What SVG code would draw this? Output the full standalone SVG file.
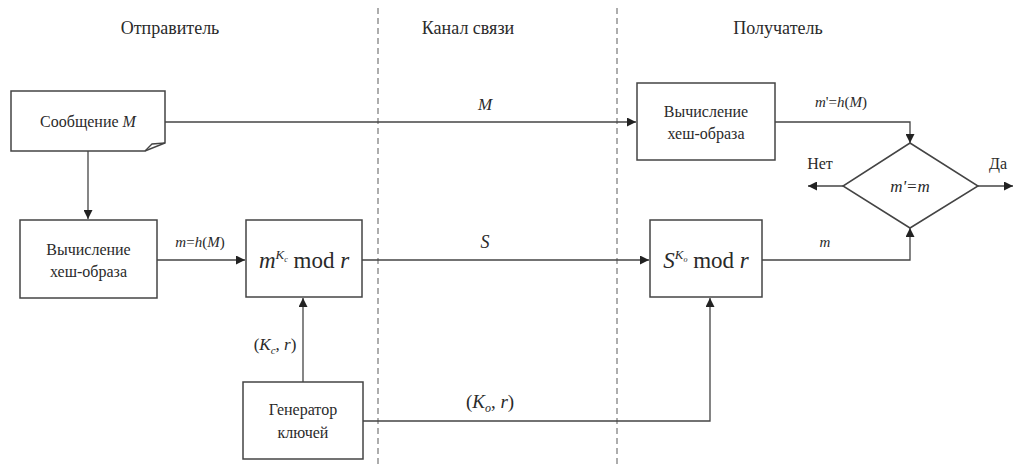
<svg xmlns="http://www.w3.org/2000/svg" width="1013" height="468" viewBox="0 0 1013 468">
<defs>
<marker id="ah" viewBox="0 0 10 10" refX="10" refY="5" markerWidth="9" markerHeight="9" markerUnits="userSpaceOnUse" orient="auto">
<path d="M0,0 L10,5 L0,10 Z" fill="#222"/>
</marker>
</defs>
<rect width="1013" height="468" fill="#fff"/>
<g id="headers">
<text font-family="Liberation Serif" font-size="18" fill="#2a2a2a" x="170" y="34" text-anchor="middle">Отправитель</text>
<text font-family="Liberation Serif" font-size="18" fill="#2a2a2a" x="468" y="34" text-anchor="middle">Канал связи</text>
<text font-family="Liberation Serif" font-size="18" fill="#2a2a2a" x="778" y="34" text-anchor="middle">Получатель</text>
<line fill="none" stroke="#777" stroke-width="1.2" stroke-dasharray="6,4" x1="378" y1="8" x2="378" y2="468"/>
<line fill="none" stroke="#777" stroke-width="1.2" stroke-dasharray="6,4" x1="617" y1="8" x2="617" y2="468"/>
</g>
<g id="connectors" fill="none" stroke="#444" stroke-width="1.3">
<path d="M165,122 H636" marker-end="url(#ah)"/>
<path d="M88,151 V219" marker-end="url(#ah)"/>
<path d="M157,260 H245" marker-end="url(#ah)"/>
<path d="M362,260 H649" marker-end="url(#ah)"/>
<path d="M303,382 V298" marker-end="url(#ah)"/>
<path d="M363,421 H710 V298" marker-end="url(#ah)"/>
<path d="M775,122 H910 V143" marker-end="url(#ah)"/>
<path d="M762,260 H910 V228" marker-end="url(#ah)"/>
<path d="M843,186 H808" marker-end="url(#ah)"/>
<path d="M978,186 H1013" marker-end="url(#ah)"/>
</g>
<g id="labels">
<text font-family="Liberation Serif" fill="#2a2a2a" font-style="italic" x="485" y="110" text-anchor="middle" font-size="17">M</text>
<text font-family="Liberation Serif" fill="#2a2a2a" x="200" y="247" text-anchor="middle" font-size="15"><tspan font-style="italic">m</tspan>=<tspan font-style="italic">h</tspan>(<tspan font-style="italic">M</tspan>)</text>
<text font-family="Liberation Serif" fill="#2a2a2a" font-style="italic" x="485" y="248" text-anchor="middle" font-size="18">S</text>
<text font-family="Liberation Serif" fill="#2a2a2a" x="275" y="350" text-anchor="middle" font-size="17">(<tspan font-style="italic">K</tspan><tspan font-style="italic" dy="4" font-size="11">c</tspan><tspan dy="-4">, </tspan><tspan font-style="italic">r</tspan>)</text>
<text font-family="Liberation Serif" fill="#2a2a2a" x="490" y="408" text-anchor="middle" font-size="19">(<tspan font-style="italic">K</tspan><tspan font-style="italic" dy="4" font-size="12">o</tspan><tspan dy="-4">, </tspan><tspan font-style="italic">r</tspan>)</text>
<text font-family="Liberation Serif" fill="#2a2a2a" x="841" y="107" text-anchor="middle" font-size="15"><tspan font-style="italic">m</tspan>'=<tspan font-style="italic">h</tspan>(<tspan font-style="italic">M</tspan>)</text>
<text font-family="Liberation Serif" fill="#2a2a2a" font-style="italic" x="825" y="247" text-anchor="middle" font-size="15">m</text>
<text font-family="Liberation Serif" fill="#2a2a2a" font-size="16" x="820" y="169" text-anchor="middle">Нет</text>
<text font-family="Liberation Serif" fill="#2a2a2a" font-size="16" x="998" y="169" text-anchor="middle">Да</text>
</g>
<g id="message">
<path fill="#fff" stroke="#444" stroke-width="1.5" d="M11,91 H165 V143 L145,151 H11 Z"/>
<path fill="none" stroke="#444" stroke-width="1.3" d="M165,143 L152,144 L145,151"/>
<text font-family="Liberation Serif" fill="#2a2a2a" font-size="16" x="88" y="127" text-anchor="middle">Сообщение <tspan font-style="italic">M</tspan></text>
</g>
<g id="hash-sender">
<rect fill="#fff" stroke="#444" stroke-width="1.5" x="20" y="220" width="137" height="78"/>
<text font-family="Liberation Serif" fill="#2a2a2a" font-size="16" x="88.5" y="255" text-anchor="middle">Вычисление</text>
<text font-family="Liberation Serif" fill="#2a2a2a" font-size="16" x="88.5" y="277" text-anchor="middle">хеш-образа</text>
</g>
<g id="sign">
<rect fill="#fff" stroke="#444" stroke-width="1.5" x="246" y="220" width="116" height="77"/>
<text font-family="Liberation Serif" fill="#2a2a2a" font-size="23" x="304" y="268" text-anchor="middle"><tspan font-style="italic">m</tspan><tspan font-style="italic" dy="-9" font-size="13">K</tspan><tspan font-style="italic" dy="3" font-size="8">c</tspan><tspan dy="6"> mod </tspan><tspan font-style="italic">r</tspan></text>
</g>
<g id="keygen">
<rect fill="#fff" stroke="#444" stroke-width="1.5" x="243" y="382" width="120" height="77"/>
<text font-family="Liberation Serif" fill="#2a2a2a" font-size="16" x="303" y="415" text-anchor="middle">Генератор</text>
<text font-family="Liberation Serif" fill="#2a2a2a" font-size="16" x="303" y="438" text-anchor="middle">ключей</text>
</g>
<g id="hash-receiver">
<rect fill="#fff" stroke="#444" stroke-width="1.5" x="637" y="83" width="138" height="77"/>
<text font-family="Liberation Serif" fill="#2a2a2a" font-size="16" x="706" y="117" text-anchor="middle">Вычисление</text>
<text font-family="Liberation Serif" fill="#2a2a2a" font-size="16" x="706" y="139" text-anchor="middle">хеш-образа</text>
</g>
<g id="verify">
<rect fill="#fff" stroke="#444" stroke-width="1.5" x="650" y="220" width="112" height="77"/>
<text font-family="Liberation Serif" fill="#2a2a2a" font-size="23" x="706" y="268" text-anchor="middle"><tspan font-style="italic">S</tspan><tspan font-style="italic" dy="-9" font-size="13">K</tspan><tspan font-style="italic" dy="3" font-size="8">o</tspan><tspan dy="6"> mod </tspan><tspan font-style="italic">r</tspan></text>
</g>
<g id="compare">
<path fill="#fff" stroke="#444" stroke-width="1.5" d="M910,143 L978,186 L910,228 L843,186 Z"/>
<text font-family="Liberation Serif" fill="#2a2a2a" font-style="italic" x="910" y="192" text-anchor="middle" font-size="17">m'=m</text>
</g>
</svg>
